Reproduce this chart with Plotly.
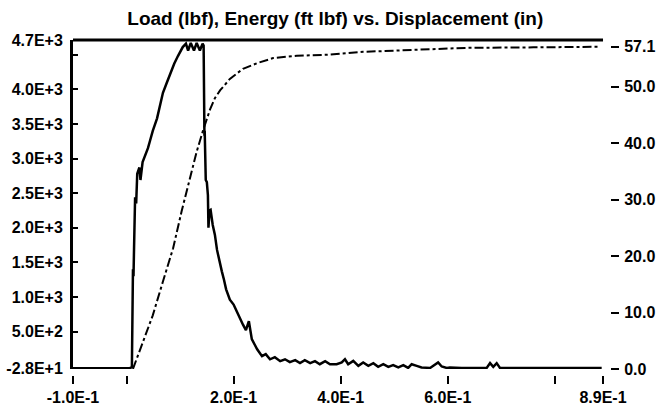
import plotly.graph_objects as go

# Load (lbf) vs displacement (in)
load_disp = [-0.100, 0.006, 0.010, 0.011, 0.012, 0.013, 0.014, 0.016, 0.018, 0.020, 0.024, 0.026,
             0.030, 0.034, 0.040, 0.044, 0.049, 0.057, 0.063, 0.068, 0.075, 0.081, 0.089, 0.096,
             0.105, 0.111, 0.115, 0.120, 0.126, 0.131, 0.137, 0.142, 0.144, 0.1455, 0.146, 0.148,
             0.150, 0.152, 0.153, 0.155, 0.157, 0.161, 0.165, 0.169, 0.1745, 0.178, 0.182, 0.186,
             0.193, 0.200, 0.206, 0.212, 0.2175, 0.223, 0.2285, 0.234, 0.244, 0.253, 0.260, 0.268,
             0.277, 0.287, 0.296, 0.305, 0.315, 0.324, 0.333, 0.343, 0.352, 0.361, 0.371, 0.380,
             0.3925, 0.402, 0.408, 0.414, 0.4235, 0.433, 0.442, 0.4516, 0.461, 0.470, 0.4796, 0.489,
             0.498, 0.5076, 0.517, 0.526, 0.5326, 0.542, 0.551, 0.567, 0.576, 0.582, 0.5887, 0.598,
             0.604, 0.6135, 0.626, 0.6415, 0.6727, 0.679, 0.685, 0.6914, 0.6975, 0.7287, 0.7536,
             0.8034, 0.853, 0.8875]
load_lbf = [-28, -28, -14, 800, 1400, 1300, 1690, 2440, 2350, 2780, 2870, 2690,
            2950, 3020, 3150, 3260, 3400, 3580, 3780, 3950, 4090, 4220, 4370, 4480,
            4610, 4660, 4560, 4670, 4560, 4670, 4560, 4660, 4630, 3330, 3400, 2690,
            2660, 2470, 2000, 2250, 2260, 2040, 1900, 1680, 1470, 1370, 1250, 1110,
            960, 890, 790, 680, 600, 520, 650, 390, 245, 145, 175, 100,
            130, 73, 100, 58, 87, 44, 87, 44, 73, 29, 73, 29,
            29, 54, 101, 29, 77, 5, 54, 5, 44, -9, 29, -9,
            15, -18, 15, -25, 29, 5, -18, -25, 29, 54, -4, -25,
            -18, -25, -25, -25, -25, 44, -10, 44, -25, -25, -26,
            -26, -26, -26]

# Energy (ft lbf) vs displacement (in)
energy_disp = [0.012, 0.030, 0.049, 0.068, 0.087, 0.103, 0.1185, 0.131, 0.143, 0.150, 0.156,
               0.165, 0.175, 0.193, 0.2175, 0.244, 0.274, 0.318, 0.380, 0.442, 0.540, 0.632,
               0.760, 0.885]
energy_ftlbf = [0, 4.5, 9.5, 15.5, 21.4, 28.0, 33.9, 38.5, 42.3, 44.5, 46.0,
                48.0, 49.4, 51.4, 53.2, 54.2, 55.1, 55.5, 55.7, 56.2, 56.6, 56.9,
                57.0, 57.1]

x_ticks = [-0.1, 0.0, 0.2, 0.4, 0.6, 0.8, 0.89]
x_labels = ["-1.0E-1", "", "2.0E-1", "4.0E-1", "6.0E-1", "", "8.9E-1"]
y_ticks = [-28, 500, 1000, 1500, 2000, 2500, 3000, 3500, 4000, 4500, 4700]
y_labels = ["-2.8E+1", "5.0E+2", "1.0E+3", "1.5E+3", "2.0E+3", "2.5E+3", "3.0E+3",
            "3.5E+3", "4.0E+3", "", "4.7E+3"]
y2_ticks = [0, 10, 20, 30, 40, 50, 57.1]
y2_labels = ["0.0", "10.0", "20.0", "30.0", "40.0", "50.0", "57.1"]

tick_font = dict(family="Arial, Liberation Sans", size=16, color="black", weight="bold")

fig = go.Figure()
fig.add_trace(go.Scatter(x=load_disp, y=load_lbf, mode="lines",
                         line=dict(color="black", width=2.5), name="Load"))
fig.add_trace(go.Scatter(x=energy_disp, y=energy_ftlbf, mode="lines", yaxis="y2",
                         line=dict(color="black", width=2, dash="dashdot"), name="Energy"))

fig.update_layout(
    width=664, height=410,
    margin=dict(l=73, r=54, t=40, b=35, autoexpand=False),
    paper_bgcolor="white", plot_bgcolor="white",
    showlegend=False,
    title=dict(text="Load (lbf), Energy (ft lbf) vs. Displacement (in)",
               x=0.505, xanchor="center", y=0.955, yanchor="middle", automargin=False,
               font=dict(family="Arial, Liberation Sans", size=19, color="black", weight="bold")),
    xaxis=dict(range=[-0.1, 0.89], domain=[0, 0.987], anchor="free", position=0,
               tickvals=x_ticks, ticktext=x_labels, ticks="outside", ticklen=8, tickwidth=2,
               tickcolor="black", showline=False, showgrid=False, zeroline=False,
               tickfont=tick_font, automargin=False),
    yaxis=dict(range=[-40, 4712], domain=[0.018, 1], anchor="x",
               tickvals=y_ticks, ticktext=y_labels, ticks="inside", ticklen=5, tickwidth=2,
               tickcolor="black", showline=True, linewidth=3, linecolor="black",
               showgrid=False, zeroline=False, tickfont=tick_font, ticklabelstandoff=4,
               automargin=False),
    yaxis2=dict(range=[0, 58.3], overlaying="y", side="right", anchor="free", position=1.0,
                tickvals=y2_ticks, ticktext=y2_labels, ticks="outside", ticklen=8, tickwidth=2,
                tickcolor="black", showline=False, showgrid=False, zeroline=False,
                tickfont=tick_font, ticklabelstandoff=2, automargin=False),
    shapes=[dict(type="line", xref="x domain", yref="y domain", x0=0, x1=1, y0=1, y1=1,
                 line=dict(color="black", width=3))],
)

# drop the default page margin so the figure sits at the window's corner
fig.write_html("out.html", config={"displayModeBar": False},
               post_script="document.body.style.margin='0';")
